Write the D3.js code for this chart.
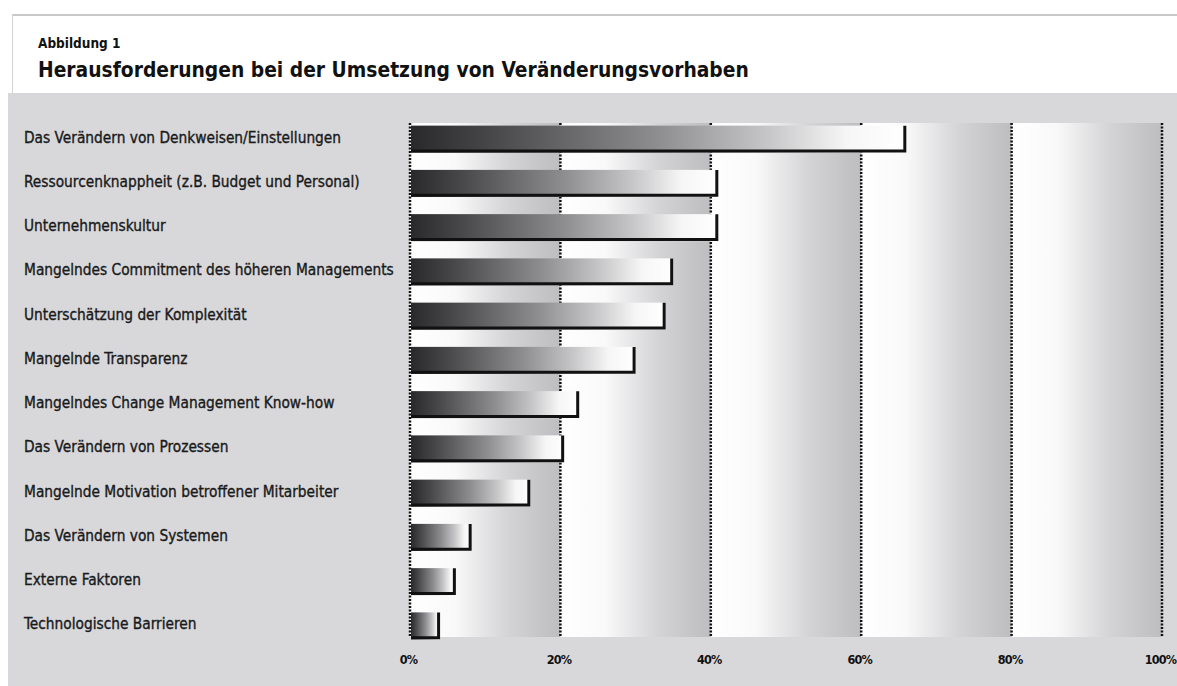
<!DOCTYPE html>
<html><head><meta charset="utf-8">
<script src="https://cdn.jsdelivr.net/npm/d3@7"></script>
<style>body{margin:0;background:#fff}svg{display:block}</style>
</head><body><svg id="c" width="1177" height="686"></svg>
<script>
const kicker = "Abbildung 1";
const title = "Herausforderungen bei der Umsetzung von Veränderungsvorhaben";
const categories = [
  "Das Verändern von Denkweisen/Einstellungen",
  "Ressourcenknappheit (z.B. Budget und Personal)",
  "Unternehmenskultur",
  "Mangelndes Commitment des höheren Managements",
  "Unterschätzung der Komplexität",
  "Mangelnde Transparenz",
  "Mangelndes Change Management Know-how",
  "Das Verändern von Prozessen",
  "Mangelnde Motivation betroffener Mitarbeiter",
  "Das Verändern von Systemen",
  "Externe Faktoren",
  "Technologische Barrieren"
];
const values = [66, 41, 41, 35, 34, 30, 22.5, 20.5, 16, 8.2, 6.1, 4];
const tickValues = [0, 20, 40, 60, 80, 100];
const tickLabels = ["0%", "20%", "40%", "60%", "80%", "100%"];

const svg = d3.select("#c");
const font = "'DejaVu Sans Condensed', 'Liberation Sans Narrow', sans-serif";
const plotTop = 123, plotBottom = 637;

const x = d3.scaleLinear().domain([0, 100]).range([410, 1162]);
const y = d3.scaleBand().domain(categories).range([117, 648]).paddingInner(0.39).paddingOuter(0.195);

const defs = svg.append("defs");
const bg = defs.append("linearGradient").attr("id", "band").attr("x1", 0).attr("x2", 1).attr("y1", 0).attr("y2", 0);
[[0, "#ffffff"], [0.3, "#f9f9f9"], [0.65, "#d4d4d7"], [0.92, "#c2c2c5"], [1, "#bebec1"]]
  .forEach(([o, c]) => bg.append("stop").attr("offset", o).attr("stop-color", c));
const bgr = defs.append("linearGradient").attr("id", "bar").attr("x1", 0).attr("x2", 1).attr("y1", 0).attr("y2", 0);
[[0, "#29292b"], [0.15, "#454547"], [0.5, "#8e8e90"], [0.72, "#c6c6c8"], [0.88, "#f6f6f6"], [1, "#ffffff"]]
  .forEach(([o, c]) => bgr.append("stop").attr("offset", o).attr("stop-color", c));

// page background
svg.append("rect").attr("width", 1177).attr("height", 686).attr("fill", "#ffffff");
svg.append("rect").attr("x", 8).attr("y", 93).attr("width", 1169).attr("height", 593).attr("fill", "#d8d8db");
svg.append("rect").attr("x", 12).attr("y", 14).attr("width", 1165).attr("height", 2).attr("fill", "#c8c8ca");
svg.append("rect").attr("x", 12).attr("y", 14).attr("width", 1).attr("height", 79).attr("fill", "#d4d4d4");

// header
svg.append("text").attr("x", 38).attr("y", 48).attr("font-family", font).attr("font-weight", "bold")
  .attr("font-size", 13.5).attr("fill", "#111").text(kicker);
svg.append("text").attr("x", 38).attr("y", 77).attr("font-family", font).attr("font-weight", "bold")
  .attr("font-size", 20.8).attr("fill", "#111").text(title);

// background bands
const bands = tickValues.slice(0, -1);
svg.append("g").selectAll("rect").data(bands).join("rect")
  .attr("x", d => x(d)).attr("y", plotTop)
  .attr("width", d => x(d + 20) - x(d)).attr("height", plotBottom - plotTop)
  .attr("fill", "url(#band)");

// gridlines
svg.append("g").selectAll("line").data(tickValues).join("line")
  .attr("x1", d => x(d)).attr("x2", d => x(d))
  .attr("y1", plotTop).attr("y2", plotBottom)
  .attr("stroke", "#111").attr("stroke-width", 2.5).attr("stroke-dasharray", "2,1.5");

// bars
const bars = svg.append("g").selectAll("g").data(categories).join("g");
bars.append("rect")
  .attr("x", x(0) + 1).attr("y", d => y(d))
  .attr("width", (d, i) => x(values[i]) - x(0) - 1).attr("height", y.bandwidth())
  .attr("fill", "url(#bar)");
bars.append("path")
  .attr("d", (d, i) => `M${x(0) + 1},${y(d) + y.bandwidth() - 1.5}H${x(values[i]) - 1.5}V${y(d)}`)
  .attr("fill", "none").attr("stroke", "#111").attr("stroke-width", 3);

// category labels
svg.append("g").selectAll("text").data(categories).join("text")
  .attr("x", 24).attr("y", d => y(d) + y.bandwidth() / 2 - 1)
  .attr("dominant-baseline", "middle")
  .attr("font-family", font).attr("font-size", 15.3).attr("fill", "#1a1a1a")
  .attr("stroke", "#1a1a1a").attr("stroke-width", 0.35)
  .text(d => d);

// x axis labels
const axis = d3.axisBottom(x).tickValues(tickValues).tickFormat((d, i) => tickLabels[i]).tickSize(0).tickPadding(0);
const ag = svg.append("g").attr("transform", `translate(0,${plotBottom + 18})`).call(axis);
ag.select(".domain").remove();
ag.selectAll("text").attr("font-family", font).attr("font-weight", "bold").attr("font-size", 12.5)
  .attr("letter-spacing", -0.8).attr("dx", -2).attr("fill", "#111");
</script>
</body></html>
